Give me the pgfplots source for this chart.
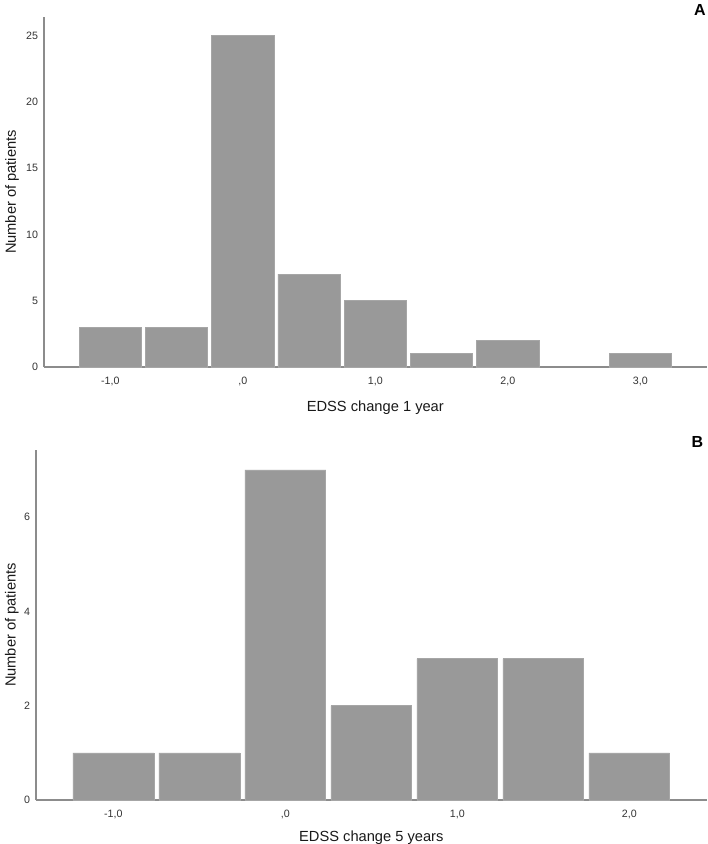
\documentclass[border=0pt]{standalone}
\usepackage{pgfplots}
\pgfplotsset{compat=1.18}
\usepackage{fontspec}
\setmainfont{Liberation Sans}
\definecolor{barfill}{HTML}{999999}
\definecolor{baredge}{HTML}{A6A6A6}
\definecolor{axline}{HTML}{8C8C8C}
\definecolor{ticktext}{HTML}{333333}
\pgfplotsset{
  histstyle/.style={
    scale only axis,
    axis lines=left,
    axis line style={draw=axline, line width=1pt, -},
    major tick length=0pt,
    ymin=0,
    ybar,
    bar shift=0pt,
    bar width=0.47,
    tick label style={font=\fontsize{8}{9}\selectfont, color=ticktext},
    xticklabel style={yshift=-4pt},
    yticklabel style={xshift=-1pt},
    label style={font=\fontsize{11}{13}\selectfont, color=black!90},
    /pgf/number format/assume math mode=true,
  }
}
\begin{document}
\begin{tikzpicture}
\path[use as bounding box] (0,0) rectangle (531pt,-633pt);
% Panel A
\begin{axis}[histstyle,
  at={(33pt,-275.25pt)}, anchor=south west,
  width=497pt, height=262.5pt,
  xmin=-1.5, xmax=3.5, ymax=26.4,
  xtick={-1,0,1,2,3},
  xticklabels={{-1,0},{,0},{1,0},{2,0},{3,0}},
  ytick={0,5,10,15,20,25},
  xlabel={EDSS change 1 year},
  ylabel={Number of patients},
  xlabel style={at={(axis description cs:0.5,-0.117)}, anchor=center},
  ylabel style={at={(axis description cs:-0.048,0.5)}, anchor=center, rotate=0},
]
\addplot[fill=barfill, draw=baredge, line width=0.4pt] coordinates {
(-1.0,3) (-0.5,3) (0.0,25) (0.5,7) (1.0,5) (1.5,1) (2.0,2) (3.0,1)
};
\end{axis}
\node[font=\bfseries\fontsize{12}{14}\selectfont] at (525pt,-7.5pt) {A};
% Panel B
\begin{axis}[histstyle,
  at={(27pt,-600pt)}, anchor=south west,
  width=503pt, height=262.5pt,
  xmin=-1.45, xmax=2.45, ymax=7.42,
  xtick={-1,0,1,2},
  xticklabels={{-1,0},{,0},{1,0},{2,0}},
  ytick={0,2,4,6},
  xlabel={EDSS change 5 years},
  ylabel={Number of patients},
  xlabel style={at={(axis description cs:0.5,-0.109)}, anchor=center},
  ylabel style={at={(axis description cs:-0.036,0.5)}, anchor=center, rotate=0},
]
\addplot[fill=barfill, draw=baredge, line width=0.4pt] coordinates {
(-1.0,1) (-0.5,1) (0.0,7) (0.5,2) (1.0,3) (1.5,3) (2.0,1)
};
\end{axis}
\node[font=\bfseries\fontsize{12}{14}\selectfont] at (523pt,-331.5pt) {B};
\end{tikzpicture}
\end{document}
